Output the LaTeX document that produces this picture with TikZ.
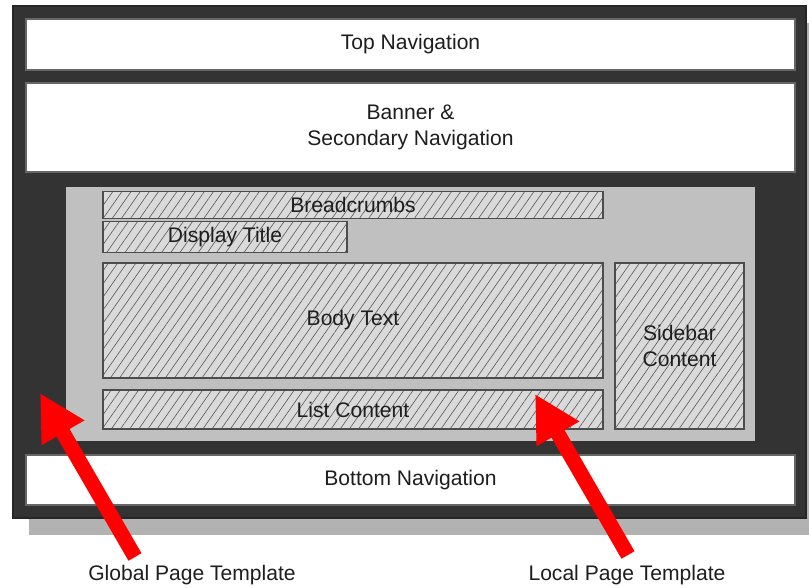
\documentclass[tikz,border=0pt]{standalone}
\usepackage{fontspec}
\setmainfont{Liberation Sans}
\usepackage{tikz}
\usetikzlibrary{arrows.meta, positioning, shadows, patterns.meta}
\definecolor{frame}{RGB}{51, 51, 51}
\definecolor{local}{RGB}{192, 192, 192}
\definecolor{hatchfill}{RGB}{218, 218, 218}
\definecolor{hatchline}{RGB}{90, 90, 90}
\definecolor{textdark}{RGB}{30, 30, 30}
\definecolor{pointer}{RGB}{255, 0, 0}
\tikzstyle{pageframe} = [rectangle, draw=black!85, line width=0.6pt, fill=frame, drop shadow={shadow xshift=0.32cm, shadow yshift=-0.34cm, fill=black!30, opacity=1}]
\tikzstyle{bar} = [rectangle, draw=black!60, line width=0.6pt, fill=white, align=center, text=textdark, font=\fontsize{12}{15}\selectfont]
\tikzstyle{region} = [rectangle, draw=black!80, line width=0.6pt, fill=local]
\tikzstyle{slot} = [rectangle, draw=black!70, line width=0.6pt, preaction={fill=hatchfill}, pattern={Lines[angle=55, distance=0.15cm, line width=0.35pt]}, pattern color=hatchline, align=center, text=textdark, font=\fontsize{12}{15}\selectfont]
\tikzstyle{pointer} = [line width=0.3cm, draw=pointer, -{Triangle[length=0.92cm, width=0.92cm]}]
\tikzstyle{caption} = [text=textdark, font=\fontsize{12}{15}\selectfont]

\begin{document}
\begin{tikzpicture}
    \useasboundingbox (0, 0) rectangle (16.18, 11.76);

    % Global template
    \node[pageframe, minimum width=15.86cm, minimum height=10.24cm] (page) at (8.19, 6.52) {};
    \node[bar, minimum width=15.38cm, minimum height=1.02cm] (topnav) at (8.21, 10.87) {Top Navigation};
    \node[bar, minimum width=15.38cm, minimum height=1.78cm] (banner) at (8.21, 9.21) {Banner \&\\Secondary Navigation};
    \node[bar, minimum width=15.38cm, minimum height=1.00cm] (botnav) at (8.21, 2.16) {Bottom Navigation};

    % Local template
    \node[region, minimum width=13.82cm, minimum height=5.12cm] (localarea) at (8.21, 5.48) {};
    \node[slot, minimum width=10.00cm, minimum height=0.52cm] (crumbs) at (7.06, 7.66) {Breadcrumbs};
    \node[slot, minimum width=4.88cm, minimum height=0.52cm] (title) at (4.50, 7.02) {Display Title};
    \node[slot, minimum width=10.00cm, minimum height=2.30cm] (body) at (7.06, 5.35) {Body Text};
    \node[slot, minimum width=10.00cm, minimum height=0.78cm] (list) at (7.06, 3.57) {List Content};
    \node[slot, minimum width=2.58cm, minimum height=3.32cm] (sidebar) at (13.59, 4.84) {Sidebar\\Content};

    % Callouts
    \node[caption] (globallabel) at (3.84, 0.26) {Global Page Template};
    \node[caption] (locallabel) at (12.54, 0.26) {Local Page Template};
    \coordinate (globaltail) at (2.70, 0.62);
    \coordinate (globaltip) at (0.80, 3.90);
    \coordinate (localtail) at (12.56, 0.66);
    \coordinate (localtip) at (10.70, 3.88);
    \draw[pointer] (globaltail) -- (globaltip);
    \draw[pointer] (localtail) -- (localtip);
\end{tikzpicture}
\end{document}
